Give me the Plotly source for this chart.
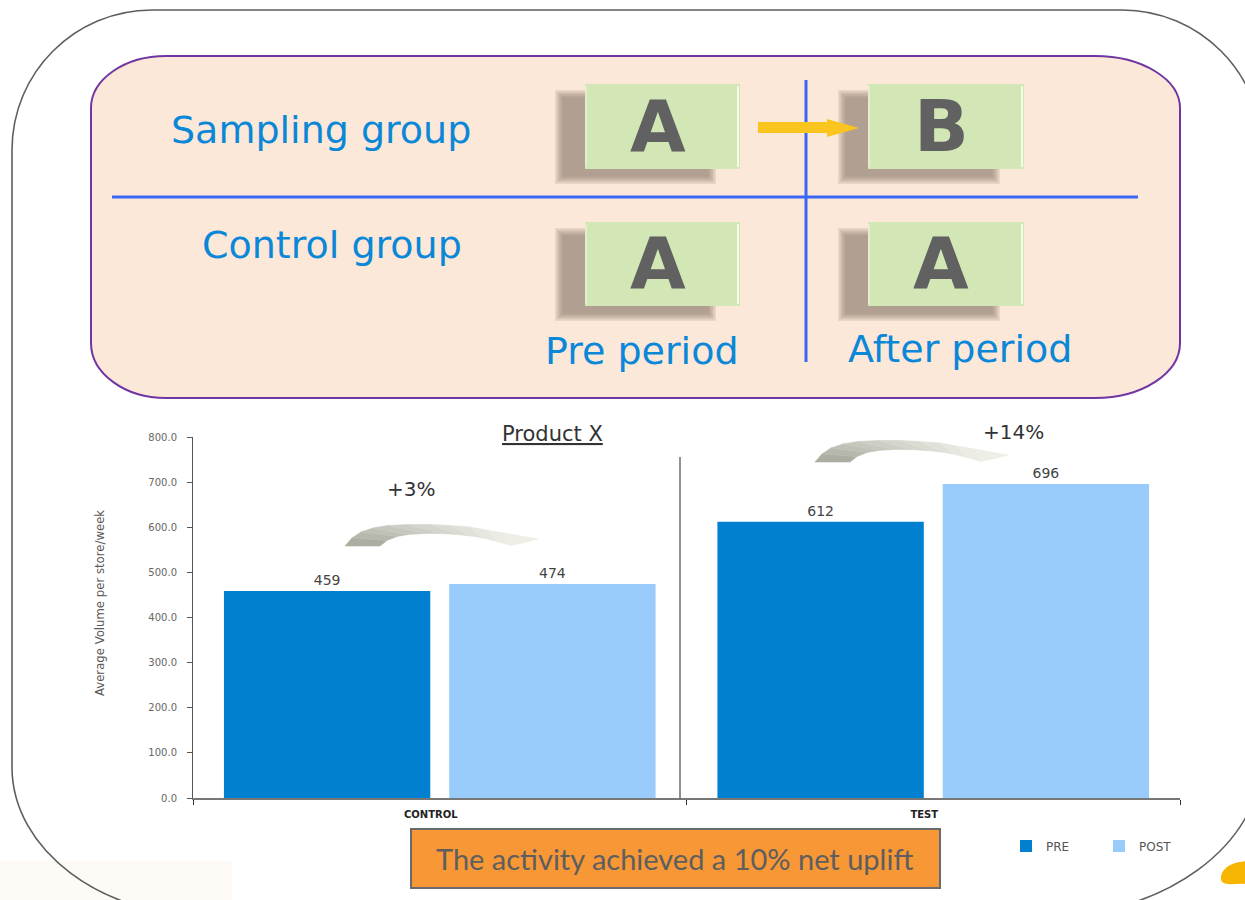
import plotly.graph_objects as go

W, H = 1245, 900

# ---------------- data ----------------
categories = ["CONTROL", "TEST"]
series_names = ["PRE", "POST"]
pre_values = [459, 612]
post_values = [474, 696]
uplift_labels = ["+3%", "+14%"]
y_tick_values = [0, 100, 200, 300, 400, 500, 600, 700, 800]
chart_title = "Product X"
y_axis_title = "Average Volume per store/week"
row_labels = ["Sampling group", "Control group"]
period_labels = ["Pre period", "After period"]
cell_letters = [["A", "B"], ["A", "A"]]
summary_text = "The activity achieved a 10% net uplift"

# colours
PRE_COLOR = "#0080cf"
POST_COLOR = "#99cbfb"
BLUE_TEXT = "#0b87d8"
GRID_BLUE = "#3a66f6"


def px(x):
    return x / W


def py(y):
    return 1 - y / H


def path(cmds):
    out = []
    for c, pts in cmds:
        if c == "Z":
            out.append("Z")
            continue
        coords = []
        for i in range(0, len(pts), 2):
            coords.append(f"{px(pts[i]):.5f},{py(pts[i + 1]):.5f}")
        out.append(c + " " + " ".join(coords))
    return " ".join(out)


def rrect(x0, y0, x1, y1, tl, tr, br, bl):
    k = 0.5523
    (tlx, tly), (trx, try_), (brx, bry), (blx, bly) = tl, tr, br, bl
    return path([
        ("M", [x0 + tlx, y0]), ("L", [x1 - trx, y0]),
        ("C", [x1 - trx + k * trx, y0, x1, y0 + try_ - k * try_, x1, y0 + try_]),
        ("L", [x1, y1 - bry]),
        ("C", [x1, y1 - bry + k * bry, x1 - brx + k * brx, y1, x1 - brx, y1]),
        ("L", [x0 + blx, y1]),
        ("C", [x0 + blx - k * blx, y1, x0, y1 - bly + k * bly, x0, y1 - bly]),
        ("L", [x0, y0 + tly]),
        ("C", [x0, y0 + tly - k * tly, x0 + tlx - k * tlx, y0, x0 + tlx, y0]),
        ("Z", []),
    ])


shapes = []
annotations = []

# faint cream glow bottom-left
shapes.append(dict(type="rect", xref="paper", yref="paper", x0=px(0), x1=px(232), y0=py(900), y1=py(861),
                   fillcolor="#fefbf7", line=dict(width=0), layer="below"))

# outer frame
shapes.append(dict(type="path", xref="paper", yref="paper",
                   path=rrect(12, 10, 1262, 917, (140, 140), (140, 140), (220, 160), (200, 150)),
                   line=dict(color="#5e5e5e", width=1.6), fillcolor="rgba(0,0,0,0)"))

# peach panel
shapes.append(dict(type="path", xref="paper", yref="paper",
                   path=rrect(91, 56, 1180, 398, (75, 52), (85, 52), (85, 55), (75, 55)),
                   line=dict(color="#7135a3", width=2), fillcolor="#fce8d8"))

# grid lines in the panel
shapes.append(dict(type="line", xref="paper", yref="paper", x0=px(112), x1=px(1138), y0=py(197), y1=py(197),
                   line=dict(color=GRID_BLUE, width=3)))
shapes.append(dict(type="line", xref="paper", yref="paper", x0=px(806), x1=px(806), y0=py(80), y1=py(362),
                   line=dict(color=GRID_BLUE, width=3)))

# green letter boxes with blurred shadows
col_x = [(585, 740), (868, 1024)]
row_y = [(84, 169), (222, 306)]
for r in range(2):
    for c in range(2):
        x0, x1 = col_x[c]
        y0, y1 = row_y[r]
        sx0, sx1, sy0, sy1 = x0 - 24, x1 - 30, y0 + 12, y1 + 9
        for grow in [6, 4.5, 3, 1.5, 0, -1.5]:
            shapes.append(dict(type="rect", xref="paper", yref="paper",
                               x0=px(sx0 - grow), x1=px(sx1 + grow), y0=py(sy1 + grow), y1=py(sy0 - grow),
                               fillcolor="rgb(140,124,112)", opacity=0.17, line=dict(width=0)))
        shapes.append(dict(type="rect", xref="paper", yref="paper", x0=px(x0), x1=px(x1), y0=py(y1), y1=py(y0),
                           fillcolor="#d2e7b5", line=dict(width=0)))
        shapes.append(dict(type="line", xref="paper", yref="paper", x0=px(x1 - 2), x1=px(x1 - 2),
                           y0=py(y1 - 2), y1=py(y0 + 2), line=dict(color="#f4fae8", width=2)))
        shapes.append(dict(type="line", xref="paper", yref="paper", x0=px(x0 + 1), x1=px(x0 + 1),
                           y0=py(y1 - 2), y1=py(y0 + 2), line=dict(color="#e6f2d6", width=1.5)))
        annotations.append(dict(x=px((x0 + x1) / 2 - 5), y=py((y0 + y1) / 2 - 1), xref="paper", yref="paper",
                                text=cell_letters[r][c], showarrow=False, xanchor="center", yanchor="middle",
                                font=dict(family="DejaVu Sans", size=72, color="#616161", weight="bold")))

# yellow arrow A -> B
shapes.append(dict(type="path", xref="paper", yref="paper",
                   path=path([("M", [758, 122]), ("L", [827, 122]), ("L", [827, 119]), ("L", [859, 128]),
                              ("L", [827, 137]), ("L", [827, 133]), ("L", [758, 133]), ("Z", [])]),
                   fillcolor="#fbc51f", line=dict(width=0)))

# panel texts
for txt, (cx, cy), size in [(row_labels[0], (321, 130), 38), (row_labels[1], (332, 245), 38),
                            (period_labels[0], (642, 351), 38), (period_labels[1], (960, 349), 38)]:
    annotations.append(dict(x=px(cx), y=py(cy), xref="paper", yref="paper", text=txt, showarrow=False,
                            xanchor="center", yanchor="middle",
                            font=dict(family="DejaVu Sans", size=size, color=BLUE_TEXT)))

# curved gray arrows (gradient built from slices)
outer_pts = [(0, 0), (7, -8), (16, -14), (28, -18), (43, -20.5), (63, -21.5), (85, -21.5), (105, -20.5),
             (125, -19), (142, -16), (160, -13), (176, -10), (193, -7)]
inner_pts = [(35, 0), (42, -5.5), (52, -9.5), (63, -11.5), (78, -12.5), (95, -12.5), (112, -11.5), (126, -10),
             (138, -8), (152, -4.5), (166, -0.5), (180, -3.5), (193, -7)]
dark = (172, 174, 162)
light = (238, 238, 231)


def curved_arrow(ox, oy):
    n = len(outer_pts) - 1
    for k in range(n):
        t = min(1.0, (k / (n - 1)) ** 0.8 * 1.15)
        col = tuple(int(dark[i] + (light[i] - dark[i]) * t) for i in range(3))
        cs = f"rgb{col}"
        o0, o1 = outer_pts[k], outer_pts[k + 1]
        i0, i1 = inner_pts[k], inner_pts[k + 1]
        shapes.append(dict(type="path", xref="paper", yref="paper",
                           path=path([("M", [ox + o0[0], oy + o0[1]]), ("L", [ox + o1[0], oy + o1[1]]),
                                      ("L", [ox + i1[0], oy + i1[1]]), ("L", [ox + i0[0], oy + i0[1]]),
                                      ("Z", [])]),
                           fillcolor=cs, line=dict(color=cs, width=0.6)))


curved_arrow(345, 546)
curved_arrow(815, 462)

# uplift labels
annotations.append(dict(x=px(385), y=py(489), xref="paper", yref="paper", text=uplift_labels[0],
                        showarrow=False, font=dict(family="DejaVu Sans", size=20, color="#333333")))
annotations.append(dict(x=px(1046), y=py(432), xref="paper", yref="paper", text=uplift_labels[1],
                        showarrow=False, font=dict(family="DejaVu Sans", size=20, color="#333333")))

# chart title
annotations.append(dict(x=px(552), y=py(434), xref="paper", yref="paper", text=f"<u>{chart_title}</u>",
                        showarrow=False, font=dict(family="DejaVu Sans", size=21, color="#333333")))

# y axis title
annotations.append(dict(x=px(99), y=py(603), xref="paper", yref="paper", text=y_axis_title, textangle=-90,
                        showarrow=False, xanchor="center", yanchor="middle",
                        font=dict(family="DejaVu Sans Condensed, Roboto, sans-serif", size=13, color="#5a5a5a")))

# separator between groups
shapes.append(dict(type="line", xref="paper", yref="paper", x0=px(680), x1=px(680), y0=py(798), y1=py(457),
                   line=dict(color="#222222", width=1)))

# summary box
shapes.append(dict(type="rect", xref="paper", yref="paper", x0=px(411), x1=px(940), y0=py(888), y1=py(829),
                   fillcolor="#f79736", line=dict(color="#6a6a6a", width=2)))
annotations.append(dict(x=px(674), y=py(858), xref="paper", yref="paper", text=summary_text, showarrow=False,
                        xanchor="center", yanchor="middle",
                        font=dict(family="Lato", size=29, color="#5e5e5e")))

# yellow blob bottom-right
shapes.append(dict(type="path", xref="paper", yref="paper",
                   path=path([("M", [1222, 882]), ("C", [1218, 874, 1226, 864, 1240, 862]), ("L", [1246, 861]),
                              ("L", [1246, 884]), ("C", [1236, 883, 1228, 886, 1222, 882]), ("Z", [])]),
                   fillcolor="#f6b500", line=dict(width=0)))

# ---------------- bars ----------------
fig = go.Figure()
fig.add_trace(go.Bar(x=categories, y=pre_values, name=series_names[0], marker=dict(color=PRE_COLOR, line=dict(width=0)),
                     text=[str(v) for v in pre_values], textposition="outside", cliponaxis=False,
                     textfont=dict(family="DejaVu Sans", size=14, color="#444444")))
fig.add_trace(go.Bar(x=categories, y=post_values, name=series_names[1], marker=dict(color=POST_COLOR, line=dict(width=0)),
                     text=[str(v) for v in post_values], textposition="outside", cliponaxis=False,
                     textfont=dict(family="DejaVu Sans", size=14, color="#444444")))

fig.update_layout(
    width=W, height=H,
    margin=dict(l=0, r=0, t=0, b=0, pad=0, autoexpand=False),
    paper_bgcolor="white", plot_bgcolor="rgba(0,0,0,0)",
    barmode="group", bargap=0.087, bargroupgap=0.084,
    font=dict(family="DejaVu Sans"),
    showlegend=True,
    legend=dict(orientation="h", x=px(1006), y=py(846), xanchor="left", yanchor="middle",
                font=dict(family="DejaVu Sans", size=12, color="#555555"), bgcolor="rgba(0,0,0,0)",
                itemwidth=30, entrywidth=48, entrywidthmode="pixels", traceorder="normal"),
    xaxis=dict(domain=[px(193), px(1180)], type="category", showline=True, linecolor="#777777", linewidth=1.5,
               ticks="outside", tickson="boundaries", ticklen=5, tickcolor="#333333", showgrid=False,
               tickfont=dict(family="DejaVu Sans", size=10, color="#222222", weight="bold"),
               ticklabelshift=-9, ticklabelstandoff=6, automargin=False),
    yaxis=dict(domain=[py(798), py(437)], range=[0, 800], tickvals=y_tick_values, tickformat=".1f",
               showline=True, linecolor="#555555", linewidth=1, ticks="outside", ticklen=5, tickcolor="#555555",
               showgrid=False, zeroline=False, ticklabelstandoff=8, automargin=False,
               tickfont=dict(family="DejaVu Sans", size=10, color="#666666")),
    shapes=shapes,
    annotations=annotations,
)

fig.write_html("out.html", config={"displayModeBar": False},
               post_script="document.body.style.margin='0';document.body.style.overflow='hidden';")
